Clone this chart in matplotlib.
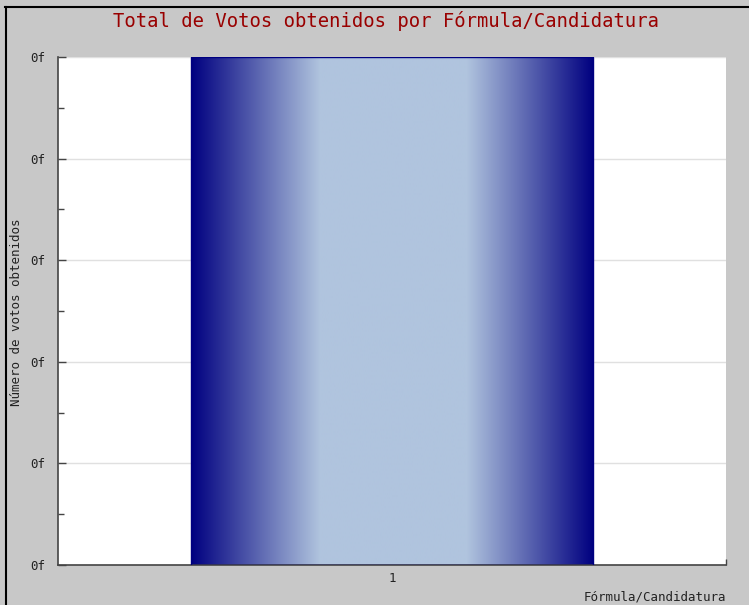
import numpy as np
import matplotlib
matplotlib.use('Agg')
import matplotlib.pyplot as plt
from matplotlib.lines import Line2D
from matplotlib.colors import to_rgb

# datos del grafico
categorias = ['1']
votos = [1.0]
ticks_y = [0, 0.2, 0.4, 0.6, 0.8, 1.0]
etiquetas_y = ['0f', '0f', '0f', '0f', '0f', '0f']

plt.rcParams['font.family'] = ['DejaVu Sans Mono']

W, H = 749, 605
fig = plt.figure(figsize=(W / 100, H / 100), dpi=100, facecolor='#c8c8c8')
ax = fig.add_axes([58 / W, 1 - 565 / H, 668 / W, 508 / H])
ax.set_facecolor('white')

# degradado azul marino -> azul claro -> azul marino
oscuro = np.array(to_rgb('#000080'))
claro = np.array(to_rgb('#b0c4de'))
f = np.linspace(0, 1, 400)
t = np.interp(f, [0, 0.32, 0.685, 1], [0, 1, 1, 0])
grad = (oscuro[None, :] * (1 - t[:, None]) + claro[None, :] * t[:, None])[None, :, :]

barras = ax.bar(range(len(categorias)), votos, width=0.603, color='none',
                edgecolor='#000080', linewidth=1, zorder=3)
for b in barras:
    x0, y0, w, h = b.get_x(), b.get_y(), b.get_width(), b.get_height()
    im = ax.imshow(grad, extent=[x0, x0 + w, y0, y0 + h], aspect='auto',
                   interpolation='bilinear', zorder=2)
    im.set_clip_path(b)

ax.set_xlim(-0.5, 0.5)
ax.set_ylim(0, 1)

ax.set_yticks(ticks_y)
ax.set_yticklabels(etiquetas_y)
ax.set_yticks([0.1, 0.3, 0.5, 0.7, 0.9], minor=True)
ax.set_xticks(range(len(categorias)))
ax.set_xticklabels(categorias)
ax.set_xticks([0.5], minor=True)

ax.tick_params(axis='y', which='major', direction='in', length=6, width=1,
               color='#444444', labelsize=9, pad=9, labelcolor='#222222')
ax.tick_params(axis='y', which='minor', direction='in', length=4, width=1, color='#444444')
ax.tick_params(axis='x', which='major', length=0, labelsize=9, pad=5, labelcolor='#222222')
ax.tick_params(axis='x', which='minor', direction='in', length=4, width=1, color='#444444')

ax.grid(axis='y', which='major', color='#e0e0e0', linewidth=1, zorder=0)
ax.set_axisbelow(True)

for s in ['top', 'right']:
    ax.spines[s].set_visible(False)
for s in ['left', 'bottom']:
    ax.spines[s].set_color('#444444')
    ax.spines[s].set_linewidth(1.2)

fig.text(386 / W, 1 - 21 / H, 'Total de Votos obtenidos por Fórmula/Candidatura',
         ha='center', va='center', fontsize=13.6, color='#990000')
fig.text(17 / W, 1 - 312 / H, 'Número de votos obtenidos', rotation=90,
         ha='center', va='center', fontsize=9, color='#222222')
fig.text(726 / W, 1 - 597 / H, 'Fórmula/Candidatura', ha='right', va='center',
         fontsize=9, color='#222222')

# marco negro arriba e izquierda
fig.add_artist(Line2D([5.5 / W, 5.5 / W], [0, 1 - 7 / H], color='black', lw=1.5))
fig.add_artist(Line2D([5 / W, 1], [1 - 7 / H, 1 - 7 / H], color='black', lw=1.5))

fig.savefig('out.png', dpi=100, facecolor=fig.get_facecolor())
